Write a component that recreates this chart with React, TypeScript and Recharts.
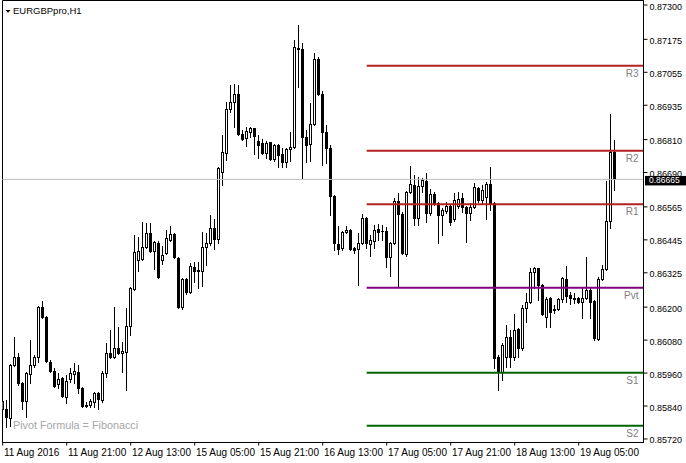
import React from 'react';
import { ComposedChart, Bar, XAxis, YAxis, ReferenceLine, ReferenceArea } from 'recharts';

const opens = [0.85829,0.85829,0.85796,0.85989,0.86018,0.85924,0.85858,0.85956,0.85989,0.86018,
0.86200,0.86164,0.86000,0.85967,0.85920,0.85942,0.85873,0.85938,0.85956,0.85964,
0.85905,0.85840,0.85844,0.85854,0.85887,0.85862,0.85960,0.86033,0.86018,0.86051,
0.86033,0.86037,0.86131,0.86266,0.86371,0.86375,0.86419,0.86470,0.86404,0.86433,
0.86371,0.86397,0.86444,0.86466,0.86379,0.86200,0.86302,0.86255,0.86346,0.86331,
0.86331,0.86419,0.86433,0.86488,0.86448,0.86692,0.86761,0.86921,0.86947,0.86976,
0.86830,0.86816,0.86837,0.86852,0.86805,0.86797,0.86761,0.86801,0.86739,0.86790,
0.86757,0.86728,0.86776,0.86783,0.87143,0.87140,0.86819,0.86794,0.86867,0.87103,
0.86976,0.86837,0.86779,0.86604,0.86430,0.86415,0.86473,0.86481,0.86415,0.86411,
0.86433,0.86524,0.86430,0.86441,0.86484,0.86477,0.86477,0.86382,0.86433,0.86586,
0.86539,0.86393,0.86619,0.86645,0.86524,0.86641,0.86659,0.86543,0.86612,0.86579,
0.86535,0.86550,0.86568,0.86521,0.86568,0.86597,0.86564,0.86543,0.86564,0.86634,
0.86590,0.86601,0.86648,0.86579,0.86018,0.85964,0.86018,0.86091,0.86018,0.86120,
0.86051,0.86197,0.86219,0.86328,0.86342,0.86280,0.86164,0.86233,0.86189,0.86193,
0.86229,0.86302,0.86244,0.86233,0.86233,0.86219,0.86233,0.86262,0.86222,0.86084,
0.86302,0.86339,0.86513,0.86765];

const highs = [0.85902,0.85862,0.85993,0.86091,0.86033,0.85927,0.85964,0.86080,0.86026,0.86204,
0.86222,0.86168,0.86007,0.85978,0.85960,0.85946,0.85953,0.85978,0.85996,0.85989,
0.85909,0.85854,0.85865,0.85891,0.85891,0.85967,0.86069,0.86117,0.86200,0.86128,
0.86073,0.86197,0.86273,0.86462,0.86455,0.86510,0.86506,0.86506,0.86441,0.86441,
0.86422,0.86481,0.86495,0.86470,0.86382,0.86306,0.86306,0.86361,0.86364,0.86364,
0.86473,0.86470,0.86535,0.86521,0.86710,0.86827,0.86947,0.87009,0.87012,0.87009,
0.86845,0.86856,0.86856,0.86854,0.86827,0.86812,0.86805,0.86803,0.86794,0.86794,
0.86779,0.86779,0.86837,0.87172,0.87227,0.87161,0.86845,0.86943,0.87125,0.87110,
0.86987,0.86863,0.86790,0.86608,0.86495,0.86477,0.86495,0.86484,0.86419,0.86470,
0.86539,0.86528,0.86462,0.86499,0.86502,0.86499,0.86492,0.86437,0.86597,0.86615,
0.86546,0.86623,0.86714,0.86681,0.86674,0.86670,0.86688,0.86630,0.86619,0.86583,
0.86561,0.86583,0.86572,0.86615,0.86619,0.86615,0.86568,0.86579,0.86652,0.86637,
0.86645,0.86655,0.86710,0.86583,0.86026,0.86069,0.86135,0.86117,0.86175,0.86124,
0.86208,0.86251,0.86342,0.86346,0.86344,0.86284,0.86237,0.86237,0.86208,0.86233,
0.86310,0.86350,0.86255,0.86251,0.86237,0.86270,0.86382,0.86270,0.86226,0.86310,
0.86353,0.86659,0.86903,0.86808];

const lows = [0.85814,0.85763,0.85767,0.85986,0.85916,0.85829,0.85800,0.85924,0.85982,0.86000,
0.86160,0.86000,0.85964,0.85909,0.85905,0.85873,0.85851,0.85927,0.85924,0.85887,
0.85836,0.85836,0.85836,0.85836,0.85829,0.85854,0.85946,0.86015,0.86015,0.86029,
0.85964,0.85898,0.86098,0.86262,0.86331,0.86371,0.86415,0.86401,0.86339,0.86306,
0.86357,0.86393,0.86441,0.86379,0.86197,0.86193,0.86248,0.86253,0.86291,0.86270,
0.86277,0.86353,0.86426,0.86411,0.86433,0.86645,0.86736,0.86910,0.86856,0.86827,
0.86808,0.86787,0.86819,0.86757,0.86743,0.86757,0.86743,0.86736,0.86732,0.86710,
0.86710,0.86710,0.86732,0.86779,0.87001,0.86670,0.86728,0.86732,0.86863,0.86972,
0.86717,0.86725,0.86535,0.86408,0.86393,0.86408,0.86470,0.86408,0.86397,0.86280,
0.86430,0.86415,0.86386,0.86415,0.86444,0.86444,0.86346,0.86313,0.86430,0.86273,
0.86393,0.86386,0.86615,0.86499,0.86499,0.86619,0.86510,0.86535,0.86572,0.86433,
0.86462,0.86543,0.86499,0.86513,0.86561,0.86546,0.86437,0.86517,0.86561,0.86583,
0.86579,0.86521,0.86553,0.85978,0.85898,0.85935,0.85982,0.85982,0.86007,0.86018,
0.86044,0.86146,0.86215,0.86270,0.86226,0.86171,0.86128,0.86128,0.86178,0.86189,
0.86219,0.86219,0.86211,0.86215,0.86215,0.86160,0.86231,0.86160,0.86080,0.86080,
0.86299,0.86335,0.86488,0.86626];

const closes = [0.85858,0.85800,0.85989,0.86018,0.85924,0.85858,0.85960,0.85989,0.86018,0.86200,
0.86164,0.86004,0.85967,0.85913,0.85938,0.85876,0.85931,0.85960,0.85967,0.85905,
0.85840,0.85844,0.85858,0.85887,0.85865,0.85960,0.86033,0.86018,0.86051,0.86033,
0.86040,0.86131,0.86270,0.86401,0.86404,0.86419,0.86470,0.86404,0.86437,0.86310,
0.86390,0.86451,0.86466,0.86382,0.86200,0.86302,0.86255,0.86350,0.86331,0.86335,
0.86419,0.86433,0.86488,0.86448,0.86706,0.86765,0.86921,0.86947,0.86976,0.86830,
0.86812,0.86841,0.86852,0.86823,0.86790,0.86761,0.86797,0.86739,0.86790,0.86754,
0.86728,0.86776,0.86783,0.87147,0.87140,0.86819,0.86790,0.86867,0.87103,0.86976,
0.86837,0.86779,0.86604,0.86433,0.86411,0.86473,0.86481,0.86411,0.86408,0.86433,
0.86524,0.86433,0.86444,0.86481,0.86473,0.86479,0.86382,0.86433,0.86586,0.86539,
0.86397,0.86619,0.86648,0.86524,0.86641,0.86663,0.86543,0.86612,0.86579,0.86535,
0.86553,0.86568,0.86510,0.86590,0.86594,0.86564,0.86543,0.86564,0.86637,0.86590,
0.86626,0.86648,0.86579,0.86015,0.85964,0.86062,0.86091,0.86018,0.86117,0.86051,
0.86197,0.86219,0.86328,0.86342,0.86280,0.86175,0.86229,0.86182,0.86193,0.86229,
0.86306,0.86240,0.86233,0.86231,0.86219,0.86233,0.86262,0.86219,0.86088,0.86302,
0.86339,0.86513,0.86765,0.86665];

const xTickIndex = [0, 16, 32, 48, 64, 80, 96, 112, 128, 144];
const xTickLabels = ['11 Aug 2016', '11 Aug 21:00', '12 Aug 13:00', '15 Aug 05:00', '15 Aug 21:00',
  '16 Aug 13:00', '17 Aug 05:00', '17 Aug 21:00', '18 Aug 13:00', '19 Aug 05:00'];
const yTicks = [0.873, 0.87175, 0.87055, 0.86935, 0.8681, 0.8669, 0.86565, 0.86445, 0.86325,
  0.862, 0.8608, 0.8596, 0.8584, 0.8572];

const pivotNames = ['R3', 'R2', 'R1', 'Pvt', 'S1', 'S2'];
const pivotValues = [0.87079, 0.86769, 0.86575, 0.86271, 0.85961, 0.85768];
const pivotColors = ['#b22222', '#b22222', '#b22222', '#800080', '#006400', '#006400'];
const pivotStartIndex = 91;
const lastPrice = 0.86665;
const symbolTitle = 'EURGBPpro,H1';
const formulaText = 'Pivot Formula = Fibonacci';

const xDomain: [number, number] = [-0.05, 160.2];
const yDomain: [number, number] = [0.857072, 0.873164];

const FONT = '"Liberation Sans", Arial, sans-serif';

const data = opens.map((o, i) => ({
  i,
  open: o,
  high: highs[i],
  low: lows[i],
  close: closes[i],
  range: [lows[i], highs[i]],
}));

const Candle = (props: any) => {
  const { x, y, width, height, payload } = props;
  if (x == null || y == null || !payload) return null;
  const top = Math.min(y, y + height);
  const h = Math.abs(height);
  const { open, close, high, low } = payload;
  const k = h / (high - low);
  const py = (v: number) => top + (high - v) * k;
  const cx = Math.floor(x + width / 2) + 0.5;
  const yH = Math.round(py(high));
  const yL = Math.round(py(low));
  const yO = py(open);
  const yC = py(close);
  const bull = close >= open;
  const bt = Math.round(Math.min(yO, yC));
  const bb = Math.round(Math.max(yO, yC));
  let body;
  if (bb - bt < 1) {
    body = <line x1={cx - 1.5} x2={cx + 1.5} y1={bt + 0.5} y2={bt + 0.5} stroke="#000" strokeWidth={1} />;
  } else if (bull) {
    body = <rect x={cx - 1} y={bt + 0.5} width={2} height={bb - bt} fill="#fff" stroke="#000" strokeWidth={1} />;
  } else {
    body = <rect x={cx - 1.5} y={bt} width={3} height={bb - bt + 1} fill="#000" />;
  }
  return (
    <g>
      <line x1={cx} x2={cx} y1={yH} y2={yL + 1} stroke="#000" strokeWidth={1} />
      {body}
    </g>
  );
};

const XTick = (props: any) => {
  const { x, y, payload } = props;
  const idx = xTickIndex.indexOf(payload.value);
  return (
    <text x={x + 1.3} y={y + 8} fontSize={10} fontFamily={FONT} fill="#000" textAnchor="start">
      {idx >= 0 ? xTickLabels[idx] : ''}
    </text>
  );
};

const YTick = (props: any) => {
  const { x, y, payload } = props;
  return (
    <text x={x} y={y + 4.5} fontSize={9} fontFamily={FONT} fill="#000" textAnchor="start">
      {Number(payload.value).toFixed(5)}
    </text>
  );
};

const PivotLabel = (name: string) => (props: any) => {
  const vb = props.viewBox || {};
  const right = (vb.x || 0) + (vb.width || 0);
  return (
    <text x={right - 5} y={(vb.y || 0) + 11} fontSize={10} fontFamily={FONT} fill="#808080" textAnchor="end">
      {name}
    </text>
  );
};

const PriceBox = (props: any) => {
  const vb = props.viewBox || {};
  const yy = vb.y || 0;
  const right = (vb.x || 0) + (vb.width || 0);
  return (
    <g>
      <rect x={right + 1.5} y={yy - 3.5} width={44} height={9.5} fill="#000" />
      <text x={right + 5.5} y={yy + 4} fontSize={8.5} fontFamily={FONT} fill="#fff" textAnchor="start">
        {lastPrice.toFixed(5)}
      </text>
    </g>
  );
};

export default function App() {
  return (
    <div style={{ position: 'absolute', left: 0, top: 0, width: 686, height: 463, background: '#fff' }}>
      <ComposedChart width={686} height={463} data={data} margin={{ top: 0.5, right: 0, bottom: 0, left: 2.5 }}>
        <XAxis
          dataKey="i"
          type="number"
          domain={xDomain}
          ticks={xTickIndex}
          allowDataOverflow
          interval={0}
          height={20.5}
          tickSize={3}
          tickMargin={2}
          tick={(p: any) => <XTick {...p} />}
          axisLine={{ stroke: '#000' }}
          tickLine={{ stroke: '#000' }}
        />
        <YAxis
          orientation="right"
          type="number"
          domain={yDomain}
          ticks={yTicks}
          allowDataOverflow
          interval={0}
          width={42.5}
          tickSize={4}
          tickMargin={2}
          tick={(p: any) => <YTick {...p} />}
          axisLine={{ stroke: '#000' }}
          tickLine={{ stroke: '#000' }}
        />
        <ReferenceArea x1={xDomain[0]} x2={xDomain[1]} y1={yDomain[0]} y2={yDomain[1]} fill="none" fillOpacity={0} stroke="#000" strokeOpacity={1} ifOverflow="visible" />
        <ReferenceLine y={lastPrice} stroke="#c0c0c0" strokeWidth={1} label={(p: any) => <PriceBox {...p} />} />
        {pivotValues.map((v, k) => (
          <ReferenceLine
            key={pivotNames[k]}
            segment={[{ x: pivotStartIndex, y: v }, { x: xDomain[1], y: v }]}
            stroke={pivotColors[k]}
            strokeWidth={2}
            ifOverflow="visible"
            label={PivotLabel(pivotNames[k])}
          />
        ))}
        <Bar dataKey="range" barSize={3} shape={(p: any) => <Candle {...p} />} isAnimationActive={false} />
      </ComposedChart>
      <svg width={686} height={463} style={{ position: 'absolute', left: 0, top: 0, pointerEvents: 'none' }}>
        <polygon points="5.5,10 10.5,10 8,12.8" fill="#000" />
        <text x={13} y={13.8} fontSize={9.5} fontFamily={FONT} fill="#000">{symbolTitle}</text>
        <text x={13} y={429} fontSize={10.8} fontFamily={FONT} fill="#a6a6a6">{formulaText}</text>
      </svg>
    </div>
  );
}
